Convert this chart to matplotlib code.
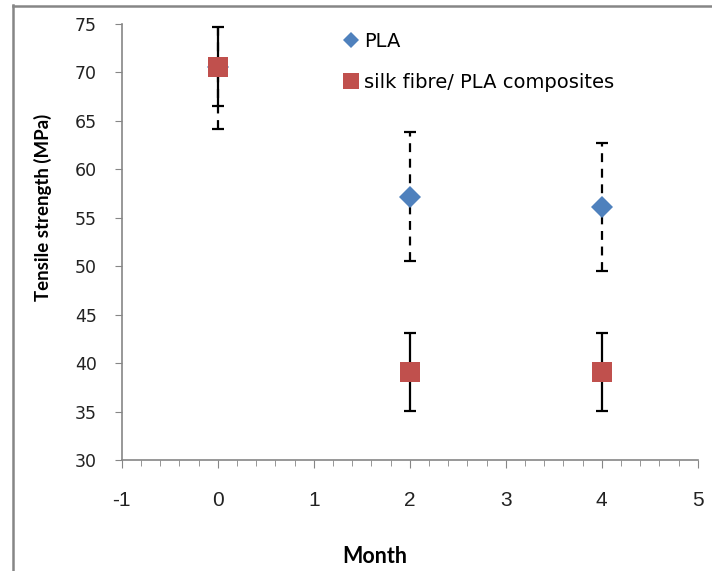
import matplotlib.pyplot as plt
from matplotlib.lines import Line2D
from matplotlib.ticker import MultipleLocator

# Data
months = [0, 2, 4]
pla_mean = [70.6, 57.2, 56.1]
pla_err = [6.4, 6.7, 6.6]
silk_mean = [70.6, 39.1, 39.1]
silk_err = [4.1, 4.0, 4.0]

x_ticks = [-1, 0, 1, 2, 3, 4, 5]
x_tick_labels = ['-1', '0', '1', '2', '3', '4', '5']

plt.rcParams['font.family'] = ['DejaVu Sans']
plt.rcParams['axes.unicode_minus'] = False

fig = plt.figure(figsize=(7.12, 5.71), dpi=100)
ax = fig.add_axes([0.171, 0.194, 0.809, 0.764])

# PLA: dashed error bars
eb1 = ax.errorbar(months, pla_mean, yerr=pla_err, fmt='none', ecolor='black',
                  elinewidth=1.6, capsize=4.3, capthick=1.6, zorder=2)
eb1[2][0].set_linestyle((0, (4, 3)))
ax.plot(months, pla_mean, 'D', color='#4f81bd', markersize=11.5,
        markeredgewidth=0, zorder=3)

# silk fibre / PLA composites: solid error bars
ax.errorbar(months, silk_mean, yerr=silk_err, fmt='none', ecolor='black',
            elinewidth=1.6, capsize=4.3, capthick=1.6, zorder=4)
ax.plot(months, silk_mean, 's', color='#c0504d', markersize=14.4,
        markeredgewidth=0, zorder=5)

ax.set_xlim(-1, 5)
ax.set_ylim(30, 75)
ax.set_xticks(x_ticks)
ax.set_xticklabels(x_tick_labels, fontfamily=['Liberation Sans', 'DejaVu Sans'],
                   fontsize=15)
ax.xaxis.set_minor_locator(MultipleLocator(0.2))
ax.yaxis.set_major_locator(MultipleLocator(5))

for s in ['top', 'right']:
    ax.spines[s].set_visible(False)
for s in ['left', 'bottom']:
    ax.spines[s].set_color('#868686')
    ax.spines[s].set_linewidth(1.2)

ax.tick_params(axis='both', which='both', direction='out', colors='#868686',
               labelcolor='#222222')
ax.tick_params(axis='y', which='major', length=5, pad=13, labelsize=12.5)
ax.tick_params(axis='x', which='major', length=6, pad=16)
ax.tick_params(axis='x', which='minor', length=4)

ax.set_ylabel('Tensile strength (MPa)', fontsize=13.4, fontweight='bold',
              fontfamily='Lato', va='center', ha='center')
ax.yaxis.set_label_coords(-0.136, 0.58)
ax.set_xlabel('Month', fontsize=15.5, fontweight='bold', fontfamily='Lato',
              va='center', ha='center')
ax.xaxis.set_label_coords(0.44, -0.22)

handles = [
    Line2D([], [], marker='D', color='#4f81bd', linestyle='none', markersize=8,
           markeredgewidth=0),
    Line2D([], [], marker='s', color='#c0504d', linestyle='none', markersize=11,
           markeredgewidth=0),
]
ax.legend(handles, ['PLA', 'silk fibre/ PLA composites'], loc='upper left',
          bbox_to_anchor=(0.35, 1.022), frameon=False, fontsize=14,
          labelspacing=1.15, handletextpad=0.2, handlelength=1.0)

# gray frame on top and left edges of the picture
fig.add_artist(Line2D([13 / 712, 13 / 712], [0, 1 - 5 / 571], color='#868686',
                      linewidth=1.8, transform=fig.transFigure))
fig.add_artist(Line2D([13 / 712, 1], [1 - 6 / 571, 1 - 6 / 571], color='#868686',
                      linewidth=1.8, transform=fig.transFigure))

fig.savefig('out.png', dpi=100)
